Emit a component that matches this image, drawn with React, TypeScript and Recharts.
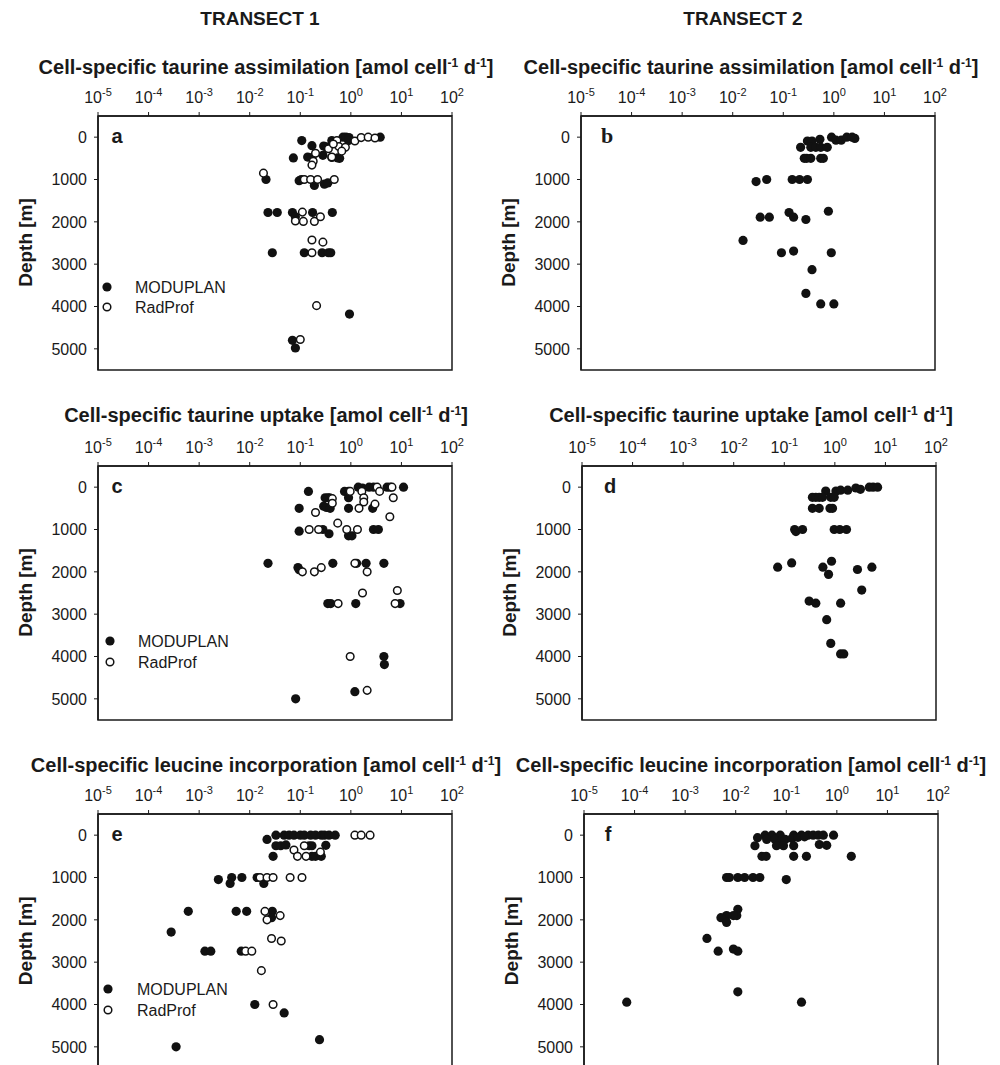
import React from "react";
import { ScatterChart, Scatter, XAxis, YAxis, ReferenceArea } from "recharts";

const FONT = "'Liberation Sans', Arial, Helvetica, sans-serif";
const INK = "#1a1a1a";

type Pt = [number, number]; // [rate, depth]

const xTicks = [1e-5, 1e-4, 1e-3, 1e-2, 1e-1, 1, 10, 100];
const depthTicks = [0, 1000, 2000, 3000, 4000, 5000];

// Transect 1 - taurine assimilation
const aModuplan: Pt[] = [
  [0.107, 80], [0.17, 200], [0.073, 490], [0.14, 470], [0.17, 480], [0.42, 80], [0.45, 130],
  [0.29, 210], [0.33, 230], [0.28, 430], [0.42, 480], [0.55, 490], [0.6, 500], [0.7, 0],
  [0.8, 0], [0.92, 10], [0.9, 80], [3.8, 0], [0.021, 1000], [0.095, 1030], [0.105, 1000],
  [0.19, 1140], [0.3, 1110], [0.35, 1080], [0.023, 1780], [0.035, 1780], [0.07, 1780],
  [0.08, 1880], [0.175, 1780], [0.43, 1780], [0.028, 2730], [0.12, 2730], [0.27, 2730],
  [0.36, 2730], [0.4, 2730], [0.94, 4180], [0.07, 4800], [0.08, 4980],
];
const aRadprof: Pt[] = [
  [0.53, 80], [0.58, 220], [0.78, 240], [0.66, 330], [0.36, 275], [0.42, 470], [0.2, 380],
  [0.18, 570], [0.17, 660], [1.2, 90], [1.6, 10], [2.2, 0], [3.0, 20], [0.45, 160],
  [0.0187, 850], [0.12, 1000], [0.16, 1000], [0.22, 1000], [0.47, 1000], [0.11, 1770],
  [0.08, 1980], [0.115, 1990], [0.19, 1990], [0.25, 1880], [0.17, 2430], [0.28, 2480],
  [0.17, 2730], [0.21, 3980], [0.1, 4780],
];

// Transect 2 - taurine assimilation
const bModuplan: Pt[] = [
  [0.3, 90], [0.37, 90], [0.53, 50], [0.22, 240], [0.35, 240], [0.44, 240], [0.55, 240],
  [0.74, 240], [0.9, 0], [1.1, 70], [1.4, 70], [1.8, 0], [2.3, 0], [2.6, 30], [0.26, 500],
  [0.29, 500], [0.35, 500], [0.55, 500], [0.62, 500], [0.029, 1050], [0.047, 1000],
  [0.15, 1000], [0.21, 1000], [0.3, 1000], [0.78, 1750], [0.13, 1780], [0.035, 1890],
  [0.053, 1890], [0.16, 1890], [0.28, 1945], [0.016, 2440], [0.092, 2730], [0.16, 2690],
  [0.89, 2730], [0.37, 3130], [0.28, 3690], [0.55, 3940], [1.0, 3940],
];

// Transect 1 - taurine uptake
const cModuplan: Pt[] = [
  [0.145, 100], [0.095, 500], [0.095, 1040], [0.023, 1800], [0.09, 1900], [0.095, 1950],
  [0.31, 250], [0.35, 250], [0.38, 250], [0.29, 450], [0.33, 480], [0.39, 500], [0.37, 1100],
  [0.28, 1000], [0.44, 1800], [0.75, 100], [0.9, 100], [0.9, 250], [0.9, 500], [0.9, 1150],
  [1.05, 1150], [1.4, 0], [1.7, 20], [2.3, 0], [2.8, 0], [2.7, 500], [2.8, 1000], [3.5, 1000],
  [1.3, 1800], [2.0, 1800], [4.5, 1800], [0.35, 2750], [0.4, 2750], [1.25, 2750], [9.4, 2750],
  [4.5, 4000], [4.6, 4190], [1.2, 4830], [0.081, 5000], [11, 0], [5.2, 0], [6.0, 0],
];
const cRadprof: Pt[] = [
  [0.2, 600], [0.15, 1000], [0.23, 1000], [0.55, 850], [0.83, 1000], [1.35, 1000], [0.43, 270],
  [0.43, 380], [0.97, 100], [1.65, 100], [1.8, 250], [1.8, 350], [1.45, 500], [3.0, 400],
  [3.3, 0], [3.7, 100], [5.9, 700], [6.9, 250], [6.5, 0], [1.2, 1800], [0.11, 2000],
  [0.19, 2000], [0.26, 1900], [2.1, 2000], [1.7, 2500], [8.3, 2440], [7.5, 2750],
  [0.56, 2750], [0.97, 4000], [2.1, 4800],
];

// Transect 2 - taurine uptake
const dModuplan: Pt[] = [
  [0.66, 90], [1.05, 90], [1.3, 70], [1.8, 70], [2.6, 20], [3.2, 50], [4.8, 0], [5.7, 0],
  [7.0, 0], [0.36, 240], [0.42, 240], [0.49, 240], [0.57, 240], [0.83, 240], [0.97, 240],
  [0.36, 500], [0.49, 500], [0.8, 500], [0.9, 500], [0.16, 1000], [0.17, 1050], [0.23, 1000],
  [0.97, 1000], [1.25, 1000], [1.7, 1000], [0.074, 1890], [0.14, 1790], [0.58, 1890],
  [0.86, 1750], [0.75, 2060], [2.8, 1945], [5.4, 1890], [3.4, 2430], [0.31, 2690],
  [0.42, 2740], [1.3, 2740], [0.69, 3130], [0.83, 3690], [1.3, 3940], [1.5, 3940],
];

// Transect 1 - leucine incorporation
const eModuplan: Pt[] = [
  [0.033, 0], [0.048, 0], [0.06, 0], [0.075, 0], [0.1, 0], [0.12, 0], [0.16, 0], [0.2, 0],
  [0.26, 0], [0.3, 0], [0.37, 0], [0.49, 0], [0.022, 100], [0.033, 250], [0.041, 250],
  [0.052, 230], [0.15, 250], [0.17, 250], [0.32, 240], [0.029, 500], [0.17, 500], [0.2, 500],
  [0.26, 500], [0.0024, 1050], [0.0044, 1000], [0.0041, 1140], [0.007, 1000], [0.014, 1000],
  [0.019, 1140], [0.00061, 1800], [0.0054, 1800], [0.0087, 1800], [0.028, 1800], [0.027, 1950],
  [0.00028, 2290], [0.0013, 2740], [0.0017, 2740], [0.0068, 2740], [0.0126, 4000],
  [0.048, 4200], [0.00035, 5000], [0.24, 4830],
];
const eRadprof: Pt[] = [
  [1.2, 0], [1.6, 0], [2.4, 0], [0.12, 250], [0.075, 350], [0.088, 500], [0.13, 500],
  [0.25, 400], [0.016, 1000], [0.022, 1000], [0.029, 1000], [0.063, 1000], [0.108, 1000],
  [0.02, 1800], [0.022, 2000], [0.04, 1900], [0.027, 2440], [0.042, 2500], [0.0083, 2740],
  [0.011, 2740], [0.017, 3200], [0.029, 4000],
];

// Transect 2 - leucine incorporation
const fModuplan: Pt[] = [
  [0.038, 0], [0.052, 0], [0.076, 0], [0.14, 0], [0.2, 0], [0.27, 0], [0.34, 0], [0.43, 0],
  [0.54, 0], [0.86, 0], [0.027, 60], [0.041, 100], [0.06, 100], [0.082, 100], [0.095, 100],
  [0.13, 80], [0.17, 50], [0.23, 40], [0.024, 250], [0.064, 250], [0.088, 250], [0.14, 250],
  [0.45, 220], [0.63, 240], [0.033, 500], [0.04, 500], [0.14, 500], [0.25, 500], [1.93, 500],
  [0.0066, 1000], [0.0075, 1000], [0.011, 1000], [0.015, 1000], [0.022, 1000], [0.03, 1000],
  [0.1, 1050], [0.011, 1750], [0.0105, 1900], [0.009, 1900], [0.0066, 1900], [0.0051, 1950],
  [0.0066, 2060], [0.0027, 2440], [0.0045, 2740], [0.009, 2690], [0.011, 2740], [0.011, 3700],
  [0.00007, 3945], [0.2, 3945],
];

const toRows = (pts: Pt[]) => pts.map(([v, d]) => ({ v, d }));

const PLOT_W = 354;
const PLOT_H = 254;
const OFF_L = 98;
const OFF_T = 50;

function PowerTick(props: any) {
  const { x, y, payload } = props;
  const exp = Math.round(Math.log10(payload.value));
  return (
    <text x={x} y={y - 7} textAnchor="middle" fontSize={16} fill={INK} fontFamily={FONT}>
      <tspan>10</tspan>
      <tspan dy={-7} fontSize={11}>{exp}</tspan>
    </text>
  );
}

const filledDot = (p: any) => <circle cx={p.cx} cy={p.cy} r={4.6} fill="#111" />;
const openDot = (p: any) => (
  <circle cx={p.cx} cy={p.cy} r={3.8} fill="#fff" stroke="#111" strokeWidth={1.5} />
);

function Panel({ left, top, moduplan, radprof }: { left: number; top: number; moduplan: Pt[]; radprof?: Pt[] }) {
  return (
    <div style={{ position: "absolute", left: left - OFF_L, top: top - OFF_T }}>
      <ScatterChart
        width={OFF_L + PLOT_W + 20}
        height={OFF_T + PLOT_H + 10}
        margin={{ top: 10, right: 20, bottom: 10, left: 18 }}
      >
        <XAxis
          type="number"
          dataKey="v"
          orientation="top"
          scale="log"
          domain={[1e-5, 100]}
          ticks={xTicks}
          interval={0}
          allowDataOverflow
          height={40}
          tick={<PowerTick />}
          tickSize={4}
          axisLine={{ stroke: INK, strokeWidth: 1.5 }}
          tickLine={{ stroke: INK }}
        />
        <YAxis
          type="number"
          dataKey="d"
          reversed
          domain={[-500, 5500]}
          ticks={depthTicks}
          interval={0}
          allowDataOverflow
          width={80}
          tickSize={4}
          tickMargin={7}
          tick={{ fontSize: 16, fill: INK, fontFamily: FONT }}
          axisLine={{ stroke: INK, strokeWidth: 1.5 }}
          tickLine={{ stroke: INK }}
        />
        <ReferenceArea x1={1e-5} x2={100} y1={-500} y2={5500} fill="none" stroke={INK} strokeWidth={1.5} />
        <Scatter data={toRows(moduplan)} shape={filledDot} isAnimationActive={false} />
        {radprof && <Scatter data={toRows(radprof)} shape={openDot} isAnimationActive={false} />}
      </ScatterChart>
    </div>
  );
}

function Title({ x, y, text }: { x: number; y: number; text: string }) {
  return (
    <text x={x} y={y} textAnchor="middle" fontSize={20} fontWeight="bold" fill={INK} fontFamily={FONT}>
      {text} [amol cell
      <tspan dy={-7} fontSize={12}>-1</tspan>
      <tspan dy={7}> d</tspan>
      <tspan dy={-7} fontSize={12}>-1</tspan>
      <tspan dy={7}>]</tspan>
    </text>
  );
}

function DepthLabel({ x, y }: { x: number; y: number }) {
  return (
    <text
      transform={`translate(${x},${y}) rotate(-90)`}
      textAnchor="middle"
      fontSize={19}
      fontWeight="bold"
      fill={INK}
      fontFamily={FONT}
    >
      Depth [m]
    </text>
  );
}

function LegendBox({ mx, tx, y1, y2 }: { mx: number; tx: number; y1: number; y2: number }) {
  return (
    <g fontFamily={FONT} fontSize={16} fill={INK}>
      <circle cx={mx} cy={y1} r={4.6} fill="#111" />
      <text x={tx} y={y1 + 6}>MODUPLAN</text>
      <circle cx={mx} cy={y2} r={3.8} fill="#fff" stroke="#111" strokeWidth={1.5} />
      <text x={tx} y={y2 + 6}>RadProf</text>
    </g>
  );
}

const panels = [
  { key: "a", left: 98, top: 115.5, moduplan: aModuplan, radprof: aRadprof },
  { key: "b", left: 581, top: 115.5, moduplan: bModuplan },
  { key: "c", left: 98, top: 465.5, moduplan: cModuplan, radprof: cRadprof },
  { key: "d", left: 582, top: 465.5, moduplan: dModuplan },
  { key: "e", left: 98, top: 813.8, moduplan: eModuplan, radprof: eRadprof },
  { key: "f", left: 584, top: 813.8, moduplan: fModuplan },
];

const letterX: Record<string, number> = { a: 117, b: 607, c: 117, d: 610, e: 117, f: 608 };

export default function App() {
  return (
    <div
      style={{
        position: "absolute",
        left: 0,
        top: 0,
        width: 1000,
        height: 1065,
        overflow: "hidden",
        background: "#fff",
        fontFamily: FONT,
      }}
    >
      {panels.map((p) => (
        <Panel key={p.key} left={p.left} top={p.top} moduplan={p.moduplan} radprof={p.radprof} />
      ))}
      <svg
        width={1000}
        height={1065}
        style={{ position: "absolute", left: 0, top: 0, pointerEvents: "none" }}
      >
        <text x={260} y={25} textAnchor="middle" fontSize={19} fontWeight="bold" fill={INK} fontFamily={FONT}>
          TRANSECT 1
        </text>
        <text x={743} y={25} textAnchor="middle" fontSize={19} fontWeight="bold" fill={INK} fontFamily={FONT}>
          TRANSECT 2
        </text>

        <Title x={266} y={74} text="Cell-specific taurine assimilation" />
        <Title x={751} y={74} text="Cell-specific taurine assimilation" />
        <Title x={266} y={422} text="Cell-specific taurine uptake" />
        <Title x={751} y={422} text="Cell-specific taurine uptake" />
        <Title x={266} y={772} text="Cell-specific leucine incorporation" />
        <Title x={751} y={772} text="Cell-specific leucine incorporation" />

        {panels.map((p) => (
          <DepthLabel key={"dl" + p.key} x={p.left - 66} y={p.top + PLOT_H / 2} />
        ))}

        {panels.map((p) => (
          <text
            key={"lt" + p.key}
            x={letterX[p.key]}
            y={p.top + 27}
            textAnchor="middle"
            fontSize={p.key === "b" ? 22 : 20}
            fontWeight="bold"
            fill={INK}
            fontFamily={p.key === "b" ? "'Liberation Serif', 'Times New Roman', serif" : FONT}
          >
            {p.key}
          </text>
        ))}

        <LegendBox mx={107} tx={135} y1={287} y2={307} />
        <LegendBox mx={110} tx={138} y1={641} y2={662} />
        <LegendBox mx={108} tx={137} y1={989} y2={1010} />
      </svg>
    </div>
  );
}
